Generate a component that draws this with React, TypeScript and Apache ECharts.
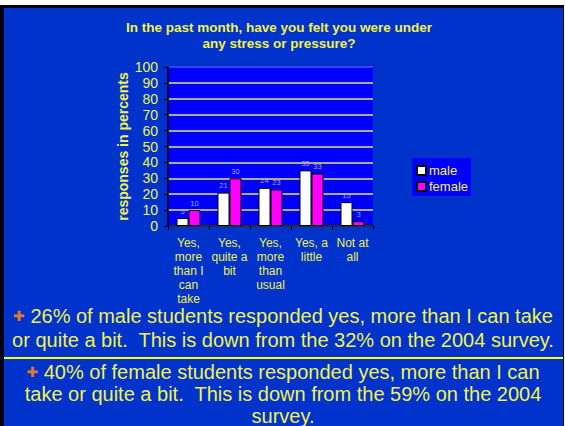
import React, { useEffect, useRef } from "react";
import * as echarts from "echarts";

const categories = [
  "Yes,\nmore\nthan I\ncan\ntake",
  "Yes,\nquite a\nbit",
  "Yes,\nmore\nthan\nusual",
  "Yes, a\nlittle",
  "Not at\nall",
];
const maleValues = [5, 21, 24, 35, 15];
const femaleValues = [10, 30, 23, 33, 3];
const seriesNames = ["male", "female"];
const titleLines = ["In the past month, have you felt you were under", "any stress or pressure?"];
const yAxisName = "responses in percents";
const note1 = [
  "{b|✚} 26% of male students responded yes, more than I can take",
  "or quite a bit.  This is down from the 32% on the 2004 survey.",
];
const note2 = [
  "{b|✚} 40% of female students responded yes, more than I can",
  "take or quite a bit.  This is down from the 59% on the 2004",
  "survey.",
];

const YELLOW = "#F2F24A";
const BG = "#0033CC";
const PLOT = "#0000FF";

export default function App() {
  const ref = useRef<HTMLDivElement>(null);
  useEffect(() => {
    if (!ref.current) return;
    const chart = echarts.init(ref.current, null, { renderer: "svg" });
    const gridColors: string[] = [];
    for (let i = 0; i < 10; i++) gridColors.push("#E6E65A");
    gridColors.push("#5050E8");
    const bulletRich = { b: { fill: "#E07A28", fontSize: 14, fontFamily: "DejaVu Sans" } };
    chart.setOption({
      animation: false,
      backgroundColor: BG,
      title: {
        text: titleLines.join("\n"),
        left: 274,
        top: 14,
        textAlign: "center",
        textStyle: {
          color: YELLOW,
          fontSize: 13.5,
          fontWeight: "bold",
          fontFamily: "Liberation Sans",
          lineHeight: 16,
        },
      },
      grid: {
        left: 168,
        right: 192,
        top: 67,
        bottom: 200,
        show: true,
        backgroundColor: PLOT,
        borderWidth: 0,
      },
      legend: {
        orient: "vertical",
        left: 412,
        top: 158,
        padding: [6, 3, 3, 4],
        backgroundColor: PLOT,
        itemWidth: 9,
        itemHeight: 9,
        itemGap: 3,
        icon: "rect",
        textStyle: { color: YELLOW, fontSize: 13, fontFamily: "Liberation Sans", padding: [0, 0, 0, -2] },
        data: seriesNames,
      },
      xAxis: {
        type: "category",
        data: categories,
        axisLine: { lineStyle: { color: "#000", width: 1.5 } },
        axisTick: { show: true, length: 4, lineStyle: { color: "#000" } },
        axisLabel: {
          color: YELLOW,
          fontSize: 12,
          lineHeight: 14,
          margin: 10,
          interval: 0,
          fontFamily: "Liberation Sans",
        },
      },
      yAxis: {
        type: "value",
        min: 0,
        max: 100,
        interval: 10,
        name: yAxisName,
        nameLocation: "middle",
        nameGap: 38,
        nameTextStyle: { color: YELLOW, fontSize: 14, fontWeight: "bold", fontFamily: "Liberation Sans" },
        axisLine: { show: true, lineStyle: { color: "#000", width: 1.5 } },
        axisTick: { show: true, length: 4, lineStyle: { color: "#000" } },
        axisLabel: { color: YELLOW, fontSize: 14, margin: 10, fontFamily: "Liberation Sans" },
        splitLine: { show: true, lineStyle: { color: gridColors, width: 1.5 } },
      },
      series: [
        {
          name: seriesNames[0],
          type: "bar",
          data: maleValues,
          barWidth: 12,
          barGap: "0%",
          itemStyle: { color: "#FFFFFF", borderColor: "#000", borderWidth: 1 },
          label: { show: true, position: "top", distance: 3, fontSize: 7.5, color: "#A8A8E0", fontFamily: "Liberation Sans" },
        },
        {
          name: seriesNames[1],
          type: "bar",
          data: femaleValues,
          barWidth: 12,
          barGap: "0%",
          itemStyle: { color: "#FF00FF", borderColor: "#000", borderWidth: 1 },
          label: { show: true, position: "top", distance: 3, fontSize: 7.5, color: "#A8A8E0", fontFamily: "Liberation Sans" },
        },
      ],
      graphic: [
        { type: "rect", shape: { x: 0, y: 0, width: 565, height: 5 }, style: { fill: "#FFFFFF" }, z: 100 },
        { type: "rect", shape: { x: 0, y: 5, width: 564, height: 3 }, style: { fill: "#000014" }, z: 100 },
        { type: "rect", shape: { x: 0, y: 5, width: 4, height: 421 }, style: { fill: "#000014" }, z: 100 },
        { type: "rect", shape: { x: 563, y: 5, width: 1, height: 421 }, style: { fill: "#000033" }, z: 100 },
        { type: "rect", shape: { x: 564, y: 0, width: 1, height: 426 }, style: { fill: "#FFFFFF" }, z: 100 },
        { type: "rect", shape: { x: 4, y: 357, width: 559, height: 2 }, style: { fill: "#FFFF00" }, z: 100 },
        {
          type: "text",
          x: 283,
          y: 304,
          z: 100,
          style: {
            text: note1.join("\n"),
            rich: bulletRich,
            fill: YELLOW,
            fontSize: 20,
            fontFamily: "Liberation Sans",
            lineHeight: 24,
            textAlign: "center",
            textVerticalAlign: "top",
          },
        },
        {
          type: "text",
          x: 283,
          y: 361,
          z: 100,
          style: {
            text: note2.join("\n"),
            rich: bulletRich,
            fill: YELLOW,
            fontSize: 20,
            fontFamily: "Liberation Sans",
            lineHeight: 22,
            textAlign: "center",
            textVerticalAlign: "top",
          },
        },
      ],
    });
    return () => chart.dispose();
  }, []);
  return (
    <div style={{ position: "absolute", left: 0, top: 0, width: 565, height: 426 }}>
      <div ref={ref} style={{ width: 565, height: 426 }} />
    </div>
  );
}
